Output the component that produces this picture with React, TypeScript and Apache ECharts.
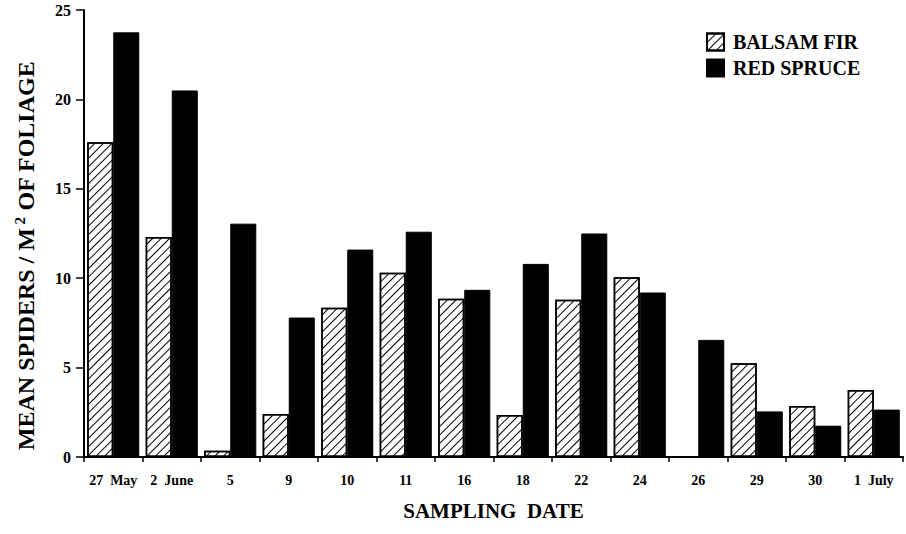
import React, { useEffect, useRef } from "react";
import * as echarts from "echarts";

const categories = ["27  May", "2  June", "5", "9", "10", "11", "16", "18", "22", "24", "26", "29", "30", "1  July"];
const balsamFir = [17.6, 12.3, 0.35, 2.4, 8.35, 10.3, 8.85, 2.35, 8.8, 10.05, null, 5.25, 2.85, 3.75];
const redSpruce = [23.75, 20.5, 13.05, 7.8, 11.6, 12.6, 9.35, 10.8, 12.5, 9.2, 6.55, 2.55, 1.75, 2.65];
const yTicks = { min: 0, max: 25, interval: 5 };

const FONT = "'Liberation Serif', 'Times New Roman', serif";

export default function App() {
  const ref = useRef<HTMLDivElement>(null);
  useEffect(() => {
    if (!ref.current) return;
    const chart = echarts.init(ref.current, null, { renderer: "svg" });
    chart.setOption({
      animation: false,
      backgroundColor: "#fff",
      grid: { left: 84, right: 3, top: 10, bottom: 77, containLabel: false },
      legend: {
        orient: "vertical",
        left: 701,
        top: 27,
        icon: "rect",
        itemWidth: 17,
        itemHeight: 17,
        itemGap: 6,
        textStyle: { fontFamily: FONT, fontWeight: "bold", fontSize: 20, color: "#000", padding: [0, 0, 0, 4] },
        data: ["BALSAM FIR", "RED SPRUCE"],
      },
      xAxis: {
        type: "category",
        data: categories,
        name: "SAMPLING  DATE",
        nameLocation: "middle",
        nameGap: 43,
        nameTextStyle: { fontFamily: FONT, fontWeight: "bold", fontSize: 21, color: "#000" },
        axisLine: { lineStyle: { color: "#000", width: 2 } },
        axisTick: { show: true, length: 5, lineStyle: { color: "#000", width: 1.5 } },
        axisLabel: { fontFamily: FONT, fontWeight: "bold", fontSize: 14, color: "#000", margin: 16, interval: 0 },
      },
      yAxis: {
        type: "value",
        min: yTicks.min,
        max: yTicks.max,
        interval: yTicks.interval,
        name: "{a|MEAN SPIDERS / M}{s| 2}{a| OF FOLIAGE}",
        nameLocation: "middle",
        nameGap: 45,
        nameRotate: 90,
        nameTextStyle: {
          color: "#000",
          padding: [0, 44, 0, 0],
          rich: {
            a: { fontFamily: FONT, fontWeight: "bold", fontSize: 24, color: "#000", lineHeight: 27 },
            s: { fontFamily: FONT, fontWeight: "bold", fontSize: 15, color: "#000", lineHeight: 14, verticalAlign: "top" },
          },
        },
        splitLine: { show: false },
        axisLine: { show: true, lineStyle: { color: "#000", width: 2 } },
        axisTick: { show: true, length: 8, lineStyle: { color: "#000", width: 1.5 } },
        axisLabel: { fontFamily: FONT, fontWeight: "bold", fontSize: 16, color: "#000", margin: 13 },
      },
      series: [
        {
          name: "BALSAM FIR",
          type: "bar",
          data: balsamFir,
          barGap: "0%",
          barCategoryGap: "11%",
          itemStyle: {
            color: "#fff",
            borderColor: "#000",
            borderWidth: 1.5,
            decal: {
              symbol: "rect",
              symbolSize: 1,
              color: "#000",
              dashArrayX: [1, 0],
              dashArrayY: [1, 5],
              rotation: -Math.PI / 4,
            },
          },
        },
        {
          name: "RED SPRUCE",
          type: "bar",
          data: redSpruce,
          barGap: "0%",
          barCategoryGap: "11%",
          itemStyle: { color: "#000", borderColor: "#000", borderWidth: 1 },
        },
      ],
    });
    return () => chart.dispose();
  }, []);
  return <div ref={ref} style={{ position: "absolute", left: 0, top: 0, width: 906, height: 534 }} />;
}
